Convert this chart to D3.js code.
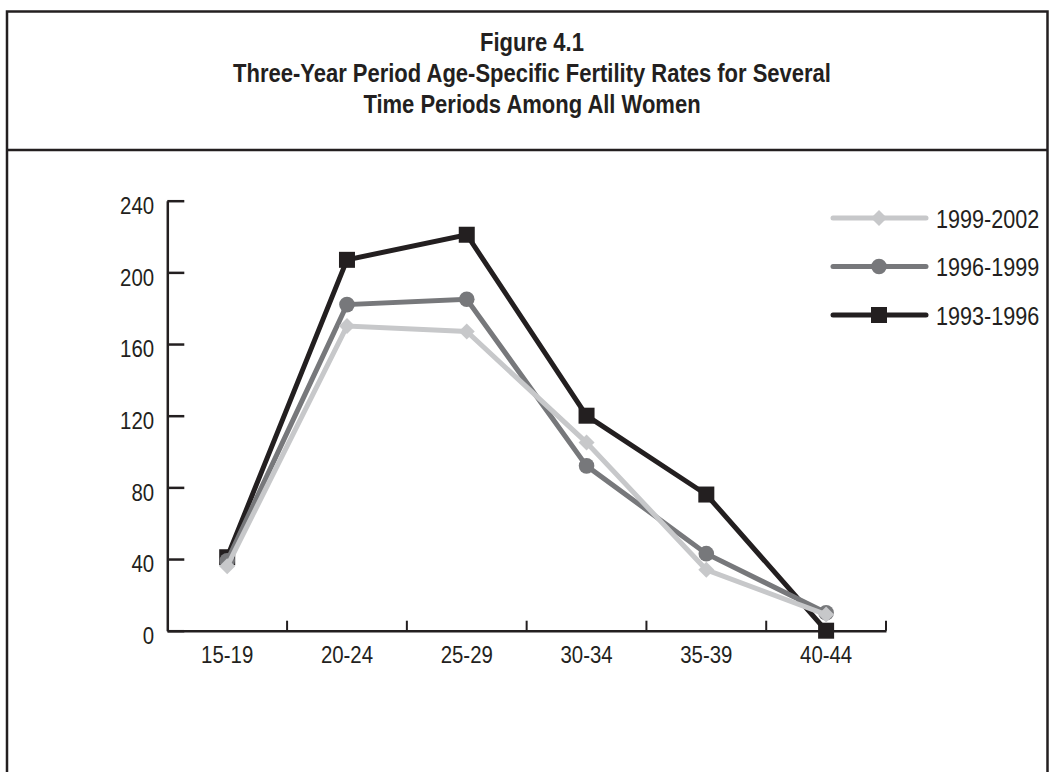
<!DOCTYPE html>
<html>
<head>
<meta charset="utf-8">
<script src="https://cdn.jsdelivr.net/npm/d3@7"></script>
<style>
  body { margin: 0; background: #fff; }
  svg { display: block; font-family: "Liberation Sans", Arial, sans-serif; }
</style>
</head>
<body>
<script>
var ageGroups = ["15-19", "20-24", "25-29", "30-34", "35-39", "40-44"]
var yTicks = [0, 40, 80, 120, 160, 200, 240]

var rates1999_2002 = [36, 170, 167, 105, 34, 9]
var rates1996_1999 = [39, 182, 185, 92, 43, 10]
var rates1993_1996 = [41, 207, 221, 120, 76, 0]

var seriesNames = ["1999-2002", "1996-1999", "1993-1996"]
var titleLines = ["Figure 4.1",
    "Three-Year Period Age-Specific Fertility Rates for Several",
    "Time Periods Among All Women"]

var width = 1050,
    height = 772,
    ink = "#231f20"

var series = [
    {name: seriesNames[2], values: rates1993_1996, color: ink, shape: "square"},
    {name: seriesNames[1], values: rates1996_1999, color: "#77787b", shape: "circle"},
    {name: seriesNames[0], values: rates1999_2002, color: "#c7c8ca", shape: "diamond"}
]

var svg = d3.select("body").append("svg")
    .attr("width", width)
    .attr("height", height)

// frame round the title and chart
var frame = svg.append("g")
    .attr("fill", "none")
    .attr("stroke", ink)
    .attr("stroke-width", 2.5)
frame.append("path")
    .attr("d", "M7,772V11.5H1047.5V772")
frame.append("path")
    .attr("d", "M7,150H1047.5")

var title = svg.append("g")
    .attr("font-weight", "bold")
    .attr("font-size", 25)
    .attr("fill", ink)
title.selectAll("text")
    .data(titleLines)
    .enter().append("text")
    .attr("text-anchor", "middle")
    .attr("transform", (d, i) => `translate(532,${51 + i * 31}) scale(0.88,1)`)
    .text(d => d)

var x = d3.scaleBand()
    .domain(ageGroups)
    .range([167.3, 886])

var y = d3.scaleLinear()
    .domain([0, 240])
    .range([630.7, 200.7])

// y axis, ticks pointing into the plot
var yAxis = svg.append("g")
    .attr("transform", `translate(${x.range()[0]},0)`)
    .call(d3.axisLeft(y).tickValues(yTicks).tickSize(-17).tickSizeOuter(0))
yAxis.select(".domain").attr("stroke", ink).attr("stroke-width", 2.5)
yAxis.selectAll(".tick line").attr("stroke", ink).attr("stroke-width", 2.5)
yAxis.selectAll(".tick text")
    .attr("x", -15.5)
    .attr("dy", "0.53em")
    .attr("font-size", 24)
    .attr("font-family", "Liberation Sans, Arial, sans-serif")
    .attr("fill", ink)
    .attr("transform", "scale(0.85,1)")

// x axis: labels in the middle of each band, ticks on the band edges
var xAxis = svg.append("g")
    .attr("transform", `translate(0,${y(0)})`)
    .call(d3.axisBottom(x).tickSize(0).tickSizeOuter(0))
xAxis.select(".domain").attr("stroke", ink).attr("stroke-width", 2.5)
xAxis.selectAll(".tick text")
    .attr("y", 32)
    .attr("dy", 0)
    .attr("font-size", 24)
    .attr("font-family", "Liberation Sans, Arial, sans-serif")
    .attr("fill", ink)
    .attr("transform", "scale(0.85,1)")
xAxis.selectAll(".edge")
    .data(ageGroups)
    .enter().append("line")
    .attr("class", "edge")
    .attr("x1", d => x(d) + x.bandwidth())
    .attr("x2", d => x(d) + x.bandwidth())
    .attr("y1", 0)
    .attr("y2", -10)
    .attr("stroke", ink)
    .attr("stroke-width", 2)

var line = d3.line()
    .x((d, i) => x(ageGroups[i]) + x.bandwidth() / 2)
    .y(d => y(d))

function drawMarker(sel, shape, color) {
    if (shape === "square") {
        sel.append("rect")
            .attr("x", -8).attr("y", -8)
            .attr("width", 16).attr("height", 16)
            .attr("fill", color)
    } else if (shape === "circle") {
        sel.append("circle")
            .attr("r", 7.8)
            .attr("fill", color)
    } else {
        sel.append("path")
            .attr("d", "M0,-8L8,0L0,8L-8,0Z")
            .attr("fill", color)
    }
}

series.forEach(s => {
    var g = svg.append("g").attr("class", "series")
    g.append("path")
        .datum(s.values)
        .attr("d", line)
        .attr("fill", "none")
        .attr("stroke", s.color)
        .attr("stroke-width", 5)
        .attr("stroke-linejoin", "miter")
    g.selectAll(".marker")
        .data(s.values)
        .enter().append("g")
        .attr("class", "marker")
        .attr("transform", (d, i) => `translate(${x(ageGroups[i]) + x.bandwidth() / 2},${y(d)})`)
        .each(function () { drawMarker(d3.select(this), s.shape, s.color) })
})

// legend, newest period first
var legend = svg.append("g")
    .attr("transform", "translate(833,218)")
var legendRows = legend.selectAll(".row")
    .data(series.slice().reverse())
    .enter().append("g")
    .attr("class", "row")
    .attr("transform", (d, i) => `translate(0,${i * 48.5})`)
legendRows.append("line")
    .attr("x1", 0).attr("x2", 93)
    .attr("stroke", d => d.color)
    .attr("stroke-width", 5)
    .attr("stroke-linecap", "round")
legendRows.each(function (d) {
    var m = d3.select(this).append("g").attr("transform", "translate(46,0)")
    drawMarker(m, d.shape, d.color)
})
legendRows.append("text")
    .attr("transform", "translate(103,9.5) scale(0.83,1)")
    .attr("font-size", 26)
    .attr("fill", ink)
    .text(d => d.name)
</script>
</body>
</html>
